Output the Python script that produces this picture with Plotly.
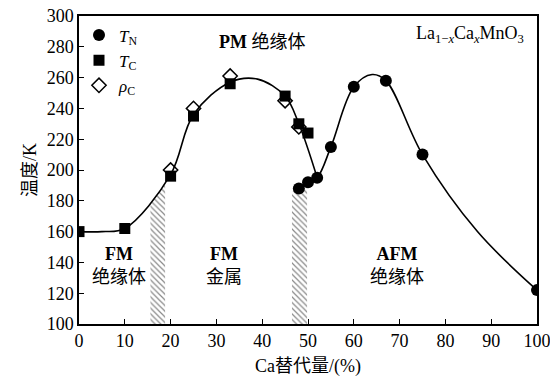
import plotly.graph_objects as go

# Phase diagram of La(1-x)Ca(x)MnO3: transition temperatures vs Ca content
tn_x = [48, 50, 52, 55, 60, 67, 75, 100]
tn_y = [188, 192, 195, 215, 254, 258, 210, 122]

tc_x = [0, 10, 20, 25, 33, 45, 48, 50]
tc_y = [160, 162, 196, 235, 256, 248, 230, 224]

rho_x = [20, 25, 33, 45, 48]
rho_y = [200, 240, 261, 245, 228]

# smooth guide lines through the transition points
tc_line_x = [0, 5, 10, 20, 25, 33, 39, 45, 48, 52]
tc_line_y = [160, 160, 162, 197, 236, 257, 259, 248, 230, 195]

tn_line_x = [48, 50, 52, 55, 60, 64, 67, 75, 87, 100]
tn_line_y = [188, 192, 195, 215, 254, 262, 258, 210, 160, 122]

# hatched phase boundaries: x extent and top edge
hatch_a_x = [15.6, 18.8]
hatch_a_top = [178, 191]
hatch_b_x = [46.5, 49.8]
hatch_b_top = [186, 189]

x_ticks = list(range(0, 101, 10))
y_ticks = list(range(100, 301, 20))

SERIF = "Liberation Serif, Times New Roman, Noto Sans CJK SC"
CJK = "Liberation Serif, Noto Sans CJK SC"

fig = go.Figure()

hatch = dict(shape="\\", fgcolor="#8a8a8a", bgcolor="white", size=4,
             solidity=0.3, fillmode="replace")
for hx, htop in ((hatch_a_x, hatch_a_top), (hatch_b_x, hatch_b_top)):
    fig.add_trace(go.Scatter(
        x=[hx[0], hx[1], hx[1], hx[0]], y=[100, 100, htop[1], htop[0]],
        fill="toself", fillpattern=hatch, fillcolor="white",
        mode="lines", line=dict(width=0), showlegend=False, hoverinfo="skip"))

fig.add_trace(go.Scatter(x=tc_line_x, y=tc_line_y, mode="lines",
                         line=dict(color="black", width=1.6, shape="spline", smoothing=1.0),
                         showlegend=False, hoverinfo="skip"))
fig.add_trace(go.Scatter(x=tn_line_x, y=tn_line_y, mode="lines",
                         line=dict(color="black", width=1.6, shape="spline", smoothing=1.0),
                         showlegend=False, hoverinfo="skip"))

fig.add_trace(go.Scatter(x=rho_x, y=rho_y, mode="markers", name="<i>ρ</i><sub>C</sub>",
                         legendrank=3,
                         marker=dict(symbol="diamond-open", size=11, color="black",
                                     line=dict(width=1.5, color="black"))))
fig.add_trace(go.Scatter(x=tc_x, y=tc_y, mode="markers", name="<i>T</i><sub>C</sub>",
                         legendrank=2,
                         marker=dict(symbol="square", size=11, color="black")))
fig.add_trace(go.Scatter(x=tn_x, y=tn_y, mode="markers", name="<i>T</i><sub>N</sub>",
                         legendrank=1,
                         marker=dict(symbol="circle", size=12, color="black")))

labels = [
    (40, 283, "<b>PM</b> 绝缘体"),
    (8.7, 138, "<b>FM</b><br>绝缘体"),
    (31.7, 138, "<b>FM</b><br>金属"),
    (69.4, 138, "<b>AFM</b><br>绝缘体"),
]
for lx, ly, txt in labels:
    fig.add_annotation(x=lx, y=ly, text=txt, showarrow=False,
                       font=dict(family=CJK, size=18, color="black"))

fig.add_annotation(x=97.5, y=288, xanchor="right", showarrow=False,
                   text="La<sub>1−<i>x</i></sub>Ca<sub><i>x</i></sub>MnO<sub>3</sub>",
                   font=dict(family=SERIF, size=18, color="black"))

axis_common = dict(showline=True, linecolor="black", linewidth=1.5, mirror=True,
                   ticks="inside", ticklen=5, tickwidth=1.2, tickcolor="black",
                   showgrid=False, zeroline=False, automargin=False,
                   ticklabeloverflow="allow",
                   tickfont=dict(family=SERIF, size=18, color="black"))

fig.update_layout(
    width=550, height=378,
    margin=dict(l=79, r=13, t=16, b=54),
    paper_bgcolor="white", plot_bgcolor="white",
    xaxis=dict(range=[0, 100], tickvals=x_ticks,
               title=dict(text="Ca替代量/(%)", font=dict(family=CJK, size=18, color="black"),
                          standoff=9),
               **axis_common),
    yaxis=dict(range=[100, 300], tickvals=y_ticks,
               title=dict(text="温度/K", font=dict(family=CJK, size=18, color="black"),
                          standoff=5),
               **axis_common),
    legend=dict(x=0.0, y=0.995, xanchor="left", yanchor="top",
                bgcolor="rgba(0,0,0,0)", tracegroupgap=0,
                font=dict(family=SERIF, size=17, color="black"), itemwidth=30),
    showlegend=True,
)

fig.write_html("out.html")
